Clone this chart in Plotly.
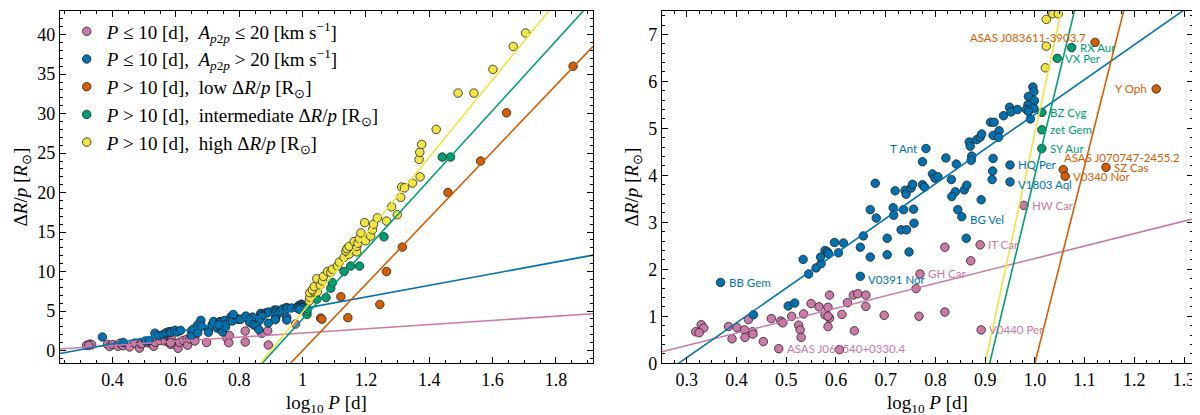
import plotly.graph_objects as go
from plotly.subplots import make_subplots
import numpy as np

# log10 P [d] and Delta R / p [R_sun] for each group
pink_logp = [0.318, 0.329, 0.334, 0.325, 0.384, 0.391, 0.401, 0.416, 0.417, 0.424, 0.432, 0.433,
             0.454, 0.470, 0.485, 0.489, 0.493, 0.511, 0.525, 0.528, 0.530, 0.535, 0.550, 0.566,
             0.578, 0.584, 0.587, 0.587, 0.584, 0.584, 0.607, 0.612, 0.623, 0.635, 0.637, 0.644,
             0.660, 0.660, 0.697, 0.761, 0.769, 0.767, 0.819, 0.819, 0.871, 0.890, 0.892, 0.978]
pink_drp = [0.67, 0.82, 0.75, 0.65, 0.78, 0.52, 0.76, 0.71, 0.55, 0.93, 0.67, 0.62,
            0.46, 0.95, 0.31, 0.90, 0.86, 1.00, 0.81, 0.71, 0.55, 1.05, 1.27, 1.20,
            1.03, 1.19, 1.45, 0.96, 0.78, 1.00, 0.29, 1.04, 1.29, 1.45, 0.69, 1.48,
            1.45, 1.21, 1.02, 1.59, 1.90, 1.00, 2.47, 1.09, 2.18, 2.52, 0.71, 3.36]

blue_logp = [0.368, 0.434, 0.504, 0.517, 0.534, 0.545, 0.560, 0.570, 0.569, 0.578, 0.583, 0.585,
             0.597, 0.605, 0.615, 0.649, 0.649, 0.655, 0.669, 0.669, 0.679, 0.681, 0.703, 0.703,
             0.715, 0.716, 0.719, 0.731, 0.739, 0.741, 0.742, 0.747, 0.751, 0.754, 0.756, 0.757,
             0.774, 0.774, 0.778, 0.794, 0.799, 0.805, 0.821,
             0.781, 0.842, 0.868, 0.870, 0.883, 0.890, 0.893, 0.873, 0.872, 0.911, 0.918, 0.916,
             0.928, 0.927, 0.937, 0.949, 0.952, 0.965, 0.916, 0.915, 0.914, 0.950, 0.950, 0.832,
             0.858, 0.863, 0.840, 0.833, 0.892, 0.845, 0.853, 0.736, 0.862,
             0.996, 0.998, 0.987, 0.999, 0.986, 0.983, 0.998, 0.987, 0.991]
blue_drp = [1.72, 1.03, 1.22, 1.28, 2.21, 1.90, 2.03, 2.12, 2.26, 2.40, 2.37, 2.33,
            2.57, 2.35, 2.56, 2.47, 1.85, 2.71, 2.26, 3.27, 3.83, 3.09, 2.66, 2.31,
            3.31, 3.15, 3.67, 2.84, 3.68, 3.60, 2.84, 2.37, 3.73, 3.81, 3.28, 2.98,
            4.29, 3.80, 3.75, 4.03, 3.94, 3.97, 4.37,
            4.57, 4.24, 4.71, 4.62, 4.76, 4.81, 4.88, 4.41, 4.32, 5.13, 5.13, 4.85,
            4.95, 4.81, 5.27, 5.45, 5.35, 5.40, 4.36, 4.09, 3.91, 4.22, 3.86, 3.91,
            3.69, 3.79, 3.65, 3.55, 3.48, 3.27, 3.12, 3.27, 2.66,
            5.88, 5.78, 5.68, 5.59, 5.50, 5.40, 5.43, 5.36, 5.20]

orange_logp = [1.057, 1.061, 1.121, 1.143, 1.244, 1.265, 1.315, 1.459, 1.562, 1.644, 1.854]
orange_drp = [4.12, 3.98, 6.83, 4.17, 5.84, 10.0, 13.1, 20.0, 24.0, 30.1, 36.0]

green_logp = [1.014, 1.014, 1.014, 1.045, 1.074, 1.089, 1.094, 1.131, 1.152, 1.180, 1.257, 1.441, 1.467]
green_drp = [4.57, 4.97, 5.34, 6.49, 6.72, 7.9, 8.6, 10.0, 10.7, 10.7, 14.4, 24.5, 24.5]

yellow_logp = [1.021, 1.023, 1.023, 1.036, 1.047, 1.031, 1.037, 1.056, 1.045, 1.063, 1.066, 1.079,
               1.089, 1.094, 1.110, 1.116, 1.131, 1.147, 1.171, 1.137, 1.140, 1.147, 1.171, 1.163,
               1.175, 1.179, 1.184, 1.199, 1.215, 1.221, 1.196, 1.224, 1.236, 1.265, 1.281, 1.299,
               1.310, 1.313, 1.322, 1.347, 1.371, 1.368, 1.370, 1.376, 1.422, 1.491, 1.541, 1.601,
               1.665, 1.704]
yellow_drp = [6.29, 6.75, 7.32, 7.44, 7.44, 7.7, 8.1, 8.3, 9.1, 8.8, 9.4, 10.0,
              9.9, 10.3, 10.7, 11.2, 11.8, 12.2, 12.5, 12.6, 12.9, 13.2, 13.2, 13.8,
              13.6, 14.2, 14.9, 13.9, 14.5, 15.3, 16.2, 16.0, 16.8, 16.4, 18.2, 17.2,
              19.4, 20.7, 20.6, 21.2, 22.0, 24.2, 25.1, 26.1, 28.0, 32.6, 32.6, 35.6,
              38.5, 40.2]

# linear fits  DeltaR/p = slope * log10 P + intercept
fit_slope = [2.65, 7.4, 42.0, 44.0, 49.0]
fit_icept = [-0.42, -2.1, -42.0, -40.0, -44.1]

# named stars in the right panel
label_names = ["BB Gem", "ASAS J064540+0330.4", "V0391 Nor", "GH Car", "IT Car", "V0440 Per",
               "HW Car", "BG Vel", "V1803 Aql", "HQ Per", "T Ant", "SY Aur", "zet Gem", "BZ Cyg",
               "VX Per", "RX Aur", "ASAS J083611-3903.7", "Y Oph", "ASAS J070747-2455.2",
               "SZ Cas", "V0340 Nor"]
label_logp = [0.368, 0.485, 0.649, 0.769, 0.890, 0.892, 0.978, 0.853, 0.950, 0.950, 0.781, 1.014,
              1.014, 1.014, 1.045, 1.074, 1.121, 1.244, 1.057, 1.143, 1.061]
label_drp = [1.72, 0.31, 1.85, 1.90, 2.52, 0.71, 3.36, 3.12, 3.86, 4.22, 4.57, 4.57,
             4.97, 5.34, 6.49, 6.72, 6.83, 5.84, 4.12, 4.17, 3.98]
label_group = [1, 0, 1, 0, 0, 0, 0, 1, 1, 1, 1, 3, 3, 3, 3, 3, 2, 2, 2, 2, 2]

colors = ['#CC79A7', '#0072B2', '#D55E00', '#009E73', '#F0E442']
names = [
    "<i>P</i> ≤ 10 [d],  <i>A<sub>p</sub></i><sub>2</sub><i><sub>p</sub></i> ≤ 20 [km s<sup>−1</sup>]",
    "<i>P</i> ≤ 10 [d],  <i>A<sub>p</sub></i><sub>2</sub><i><sub>p</sub></i> > 20 [km s<sup>−1</sup>]",
    "<i>P</i> > 10 [d],  low Δ<i>R</i>/<i>p</i> [R<sub>⊙</sub>]",
    "<i>P</i> > 10 [d],  intermediate Δ<i>R</i>/<i>p</i> [R<sub>⊙</sub>]",
    "<i>P</i> > 10 [d],  high Δ<i>R</i>/<i>p</i> [R<sub>⊙</sub>]",
]
xs = [pink_logp, blue_logp, orange_logp, green_logp, yellow_logp]
ys = [pink_drp, blue_drp, orange_drp, green_drp, yellow_drp]

x_ranges = [[0.234, 1.917], [0.25, 1.318]]
y_ranges = [[-1.6, 43.0], [0, 7.5]]

fig = make_subplots(rows=1, cols=2)

for col in (1, 2):
    for i in range(5):
        fig.add_trace(go.Scatter(
            x=xs[i], y=ys[i], mode='markers', name=names[i],
            legendgroup=str(i), showlegend=(col == 1),
            marker=dict(color=colors[i], size=8.5, line=dict(color='#222', width=0.8))
        ), row=1, col=col)
    xr = np.array(x_ranges[col - 1])
    for i in range(5):
        fig.add_trace(go.Scatter(
            x=xr, y=fit_slope[i] * xr + fit_icept[i], mode='lines', showlegend=False,
            line=dict(color=colors[i], width=1.6)
        ), row=1, col=col)

for name, lx, ly, g in zip(label_names, label_logp, label_drp, label_group):
    side, dx, dy = 'left', 6, 0
    if name in ("T Ant", "ASAS J083611-3903.7", "Y Oph"):
        side, dx = 'right', -7
    if name == "ASAS J083611-3903.7":
        dy = 5
    if name == "ASAS J070747-2455.2":
        dx, dy = -1, 12
    if name in ("V0391 Nor", "V1803 Aql", "BG Vel"):
        dy = -3
    fig.add_annotation(x=lx, y=ly, xref='x2', yref='y2', text=name, showarrow=False,
                       xanchor=side, yanchor='middle', xshift=dx, yshift=dy,
                       font=dict(family='Lato', size=11.5, color=colors[g]))

tick_font = dict(family='Liberation Serif', size=18, color='black')
axis_style = dict(showline=True, linecolor='black', linewidth=1.2, mirror='allticks',
                  ticks='inside', ticklen=6, tickwidth=1, tickcolor='black', showgrid=False,
                  zeroline=False, tickfont=tick_font)

fig.update_xaxes(**axis_style)
fig.update_yaxes(**axis_style)

xtitle = "log<sub>10</sub> <i>P</i> [d]"
ytitle = "Δ<i>R</i>/<i>p</i> [<i>R</i><sub>⊙</sub>]"
title_font = dict(family='Liberation Serif', size=19, color='black')

fig.update_layout(
    width=1200, height=415,
    margin=dict(l=0, r=0, t=0, b=0),
    plot_bgcolor='white', paper_bgcolor='white',
    xaxis=dict(domain=[52 / 1200, 586 / 1200], range=x_ranges[0], dtick=0.2, tick0=0,
               minor=dict(dtick=0.05, ticks='inside', ticklen=3, tickcolor='black'),
               title=dict(text=xtitle, font=title_font, standoff=6)),
    xaxis2=dict(domain=[655 / 1200, 1187 / 1200], range=x_ranges[1], dtick=0.1, tick0=0,
                tickformat='.1f',
                minor=dict(dtick=0.025, ticks='inside', ticklen=3, tickcolor='black'),
                title=dict(text=xtitle, font=title_font, standoff=6)),
    yaxis=dict(domain=[1 - 364 / 415, 1 - 3 / 415], range=y_ranges[0], dtick=5, tick0=0,
               minor=dict(dtick=1, ticks='inside', ticklen=3, tickcolor='black'),
               title=dict(text=ytitle, font=title_font, standoff=4)),
    yaxis2=dict(domain=[1 - 364 / 415, 1 - 3 / 415], range=y_ranges[1], dtick=1, tick0=0,
                minor=dict(dtick=0.2, ticks='inside', ticklen=3, tickcolor='black'),
                title=dict(text=ytitle, font=title_font, standoff=4)),
    legend=dict(x=0.049, y=0.989, xanchor='left', yanchor='top', bgcolor='rgba(0,0,0,0)',
                font=dict(family='Liberation Serif', size=19, color='black'),
                traceorder='grouped', tracegroupgap=0, itemwidth=30),
)

fig.write_html("out.html")
